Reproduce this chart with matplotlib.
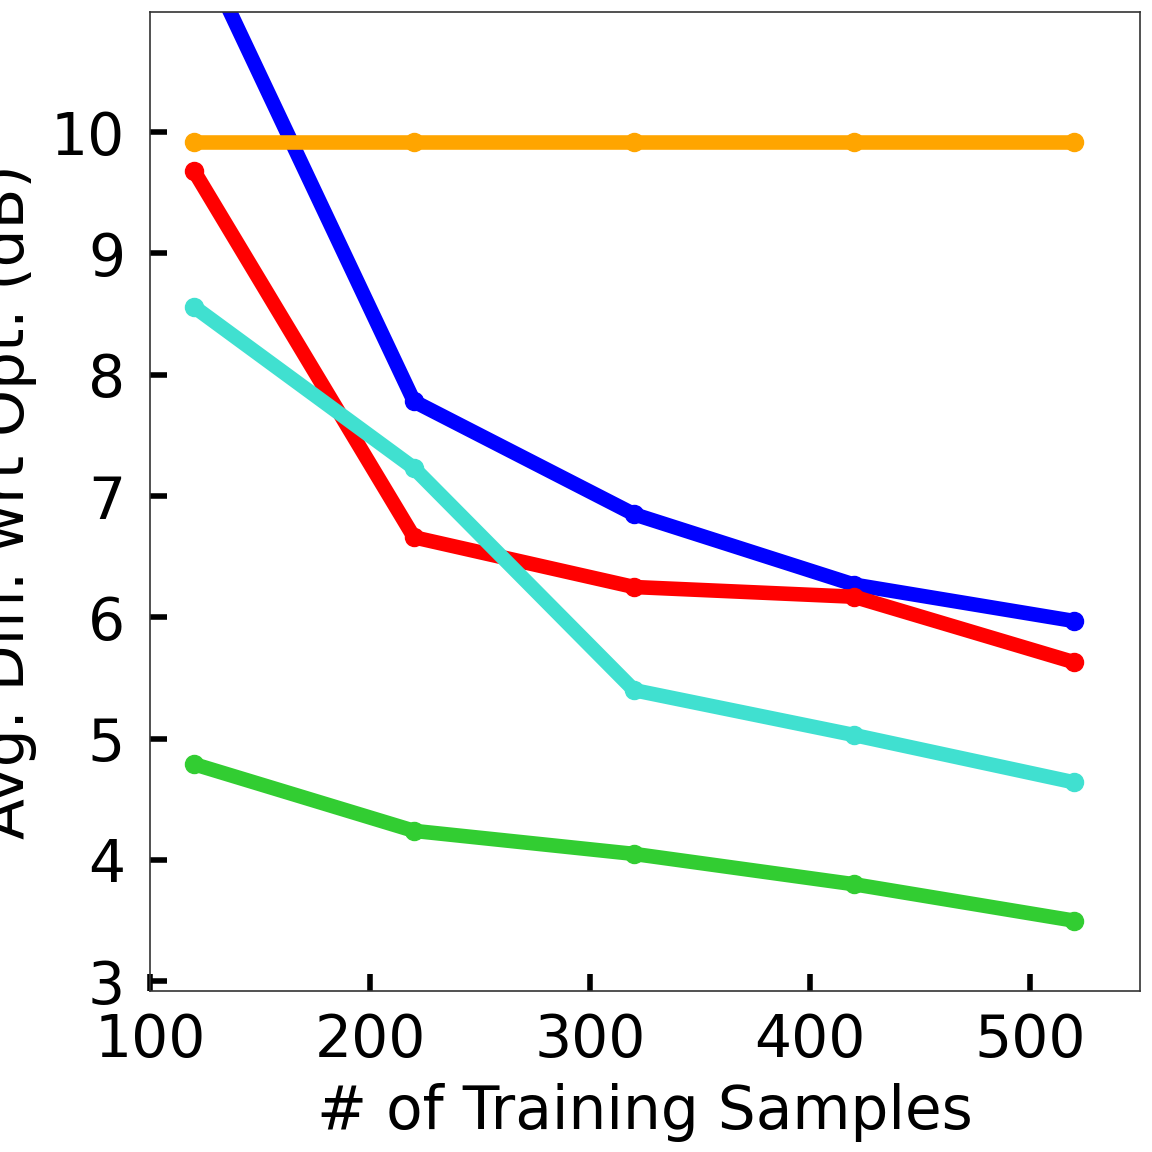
import numpy as np
import matplotlib
matplotlib.use('Agg')
import matplotlib.pyplot as plt

# data
samples = [120, 220, 320, 420, 520]
blue_vals = [11.62, 7.78, 6.85, 6.27, 5.97]
orange_vals = [9.92, 9.92, 9.92, 9.92, 9.92]
red_vals = [9.68, 6.66, 6.25, 6.17, 5.63]
cyan_vals = [8.56, 7.23, 5.40, 5.03, 4.64]
green_vals = [4.79, 4.24, 4.05, 3.80, 3.50]

series = [
    (blue_vals, 'blue'),
    (orange_vals, 'orange'),
    (red_vals, 'red'),
    (cyan_vals, 'turquoise'),
    (green_vals, 'limegreen'),
]

fig = plt.figure(figsize=(11.52, 11.52), dpi=100)
ax = fig.add_axes([150 / 1152, 1 - 991 / 1152, 990 / 1152, 979 / 1152])

for vals, col in series:
    ax.plot(samples, vals, color=col, linewidth=10.5, marker='o', markersize=13,
            solid_capstyle='round')

ax.set_xlim(100, 550)
ax.set_ylim(2.92, 10.99)
ax.set_xticks([100, 200, 300, 400, 500])
ax.set_yticks(np.arange(3, 11))
ax.tick_params(direction='in', length=12, width=4, labelsize=42)
ax.tick_params(axis='x', pad=15)
ax.tick_params(axis='y', pad=18)
for sp in ax.spines.values():
    sp.set_color('#333333')
    sp.set_linewidth(1.2)

ax.set_xlabel('# of Training Samples', fontsize=43)
ax.set_ylabel('Avg. Diff. wrt Opt. (dB)', fontsize=43)
ax.xaxis.set_label_coords(0.5, -0.094)
ax.yaxis.set_label_coords(-0.114, 0.5)

fig.savefig('out.png', dpi=100)
